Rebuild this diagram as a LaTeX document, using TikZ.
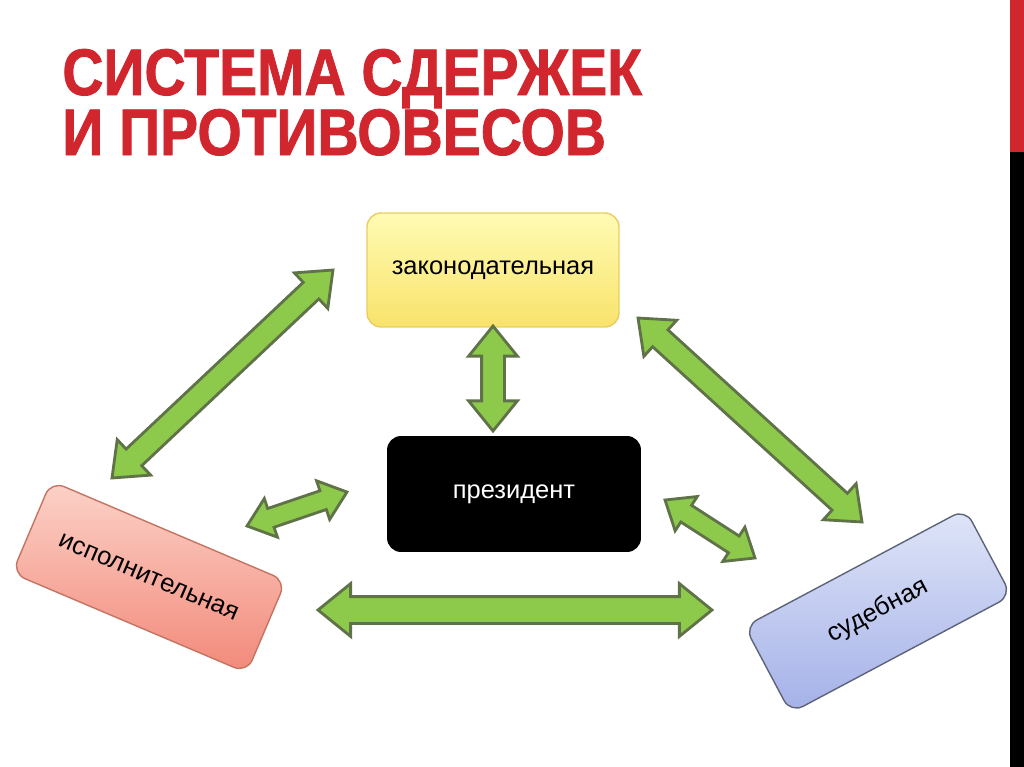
\documentclass[tikz,border=0pt]{standalone}
\usepackage{fontspec}
\setmainfont{Liberation Sans}
\newfontfamily\titlefont[FakeStretch=0.865, FakeBold=1.2]{Liberation Sans Bold}
\usetikzlibrary{shapes.arrows,calc}
\definecolor{titlered}{HTML}{D2262E}
\definecolor{legtop}{HTML}{FFFBB4}
\definecolor{legbot}{HTML}{F8E36A}
\definecolor{legedge}{HTML}{E8CE62}
\definecolor{exetop}{HTML}{FCD2C8}
\definecolor{exebot}{HTML}{F2897A}
\definecolor{exeedge}{HTML}{C47462}
\definecolor{judtop}{HTML}{DFE5F8}
\definecolor{judbot}{HTML}{A4B1E8}
\definecolor{judedge}{HTML}{5E6478}
\definecolor{arrowfill}{HTML}{8DC94A}
\definecolor{arrowedge}{HTML}{5F7248}

\tikzset{
  branch/.style={rounded corners=0.28cm, line width=0.8pt, align=center,
    font=\fontsize{14.5}{17}\selectfont},
  dblarr/.style={double arrow, draw=arrowedge, fill=arrowfill, line width=1.6pt,
    inner xsep=0pt, double arrow tip angle=78},
  arrbig/.style={dblarr, inner ysep=0.24cm, double arrow head extend=0.26cm},
  arrmid/.style={dblarr, inner ysep=0.2cm, double arrow head extend=0.26cm},
  arrsmall/.style={dblarr, inner ysep=0.17cm, double arrow head extend=0.21cm},
}

% block arrow between two named points
\newcommand{\bigarrow}[3]{%
  \path let \p1=($(#2)-(#1)$), \n1={atan2(\y1,\x1)}, \n2={veclen(\x1,\y1)} in
    node[#3, rotate=\n1, minimum height=\n2] at ($(#1)!0.5!(#2)$) {};
}

\begin{document}
\begin{tikzpicture}[x=0.02cm, y=-0.02cm]
  \useasboundingbox (0,0) rectangle (1024,767);
  % side strip
  \fill[titlered] (1010,0) rectangle (1024,152);
  \fill[black] (1010,152) rectangle (1024,767);
  % title
  \node[anchor=base west, inner sep=0pt, text=titlered,
    font=\titlefont\fontsize{37.5}{40}\selectfont] (title1) at (62,95) {СИСТЕМА СДЕРЖЕК};
  \node[anchor=base west, inner sep=0pt, text=titlered,
    font=\titlefont\fontsize{37.5}{40}\selectfont] (title2) at (62,155) {И ПРОТИВОВЕСОВ};

  % branches
  \node[branch, draw=legedge, top color=legtop, bottom color=legbot,
    minimum width=5.04cm, minimum height=2.28cm] (leg) at (493,270) {законодательная};
  \node[branch, fill=black, text=white,
    minimum width=5.08cm, minimum height=2.32cm] (pres) at (514,494) {президент};
  \node[branch, draw=exeedge, top color=exetop, bottom color=exebot, rotate=-23,
    minimum width=5.1cm, minimum height=2cm] (exe) at (149,577) {исполнительная};
  \node[branch, draw=judedge, top color=judtop, bottom color=judbot, rotate=28,
    minimum width=5.0cm, minimum height=1.96cm] (jud) at (878,611) {судебная};

  % arrow ends
  \coordinate (exeN) at (112,478);  \coordinate (legW) at (333,270);
  \coordinate (legS) at (493,326);  \coordinate (presN) at (493,431);
  \coordinate (legE) at (638,318);  \coordinate (judN) at (862,522);
  \coordinate (exeE) at (247,526);  \coordinate (presW) at (347,492);
  \coordinate (presE) at (665,500); \coordinate (judW) at (755,558);
  \coordinate (exeR) at (318,610);  \coordinate (judL) at (712,610);

  \foreach \a/\b/\s in {exeN/legW/arrmid, legS/presN/arrmid, legE/judN/arrmid,
      exeE/presW/arrsmall, presE/judW/arrsmall, exeR/judL/arrbig} {
    \bigarrow{\a}{\b}{\s}
  }
\end{tikzpicture}
\end{document}
